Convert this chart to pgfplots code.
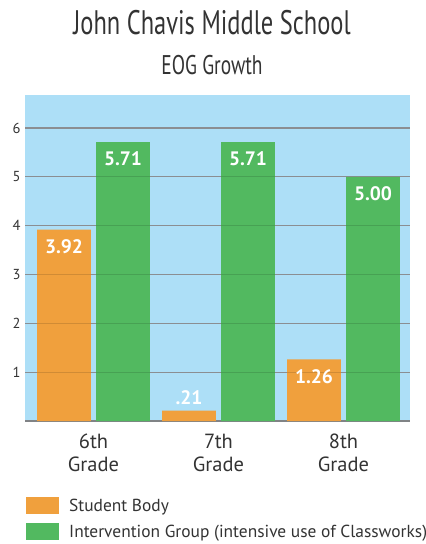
\documentclass[border=0pt]{standalone}
\usepackage{fontspec}
\setmainfont{PT Sans}
\newfontfamily\titlefont[FakeStretch=0.72]{PT Sans}
\usepackage{pgfplots}
\pgfplotsset{compat=1.18}
\usepackage{pgfplotstable}
\definecolor{bgblue}{HTML}{ADDFF7}
\definecolor{orangebar}{HTML}{F0A03D}
\definecolor{greenbar}{HTML}{52B960}
\definecolor{gridgray}{HTML}{A0A4A8}
\definecolor{txt}{HTML}{333333}

\pgfplotstableread{
x y lab dy
0 3.92 3.92 -6.2
1 0.21 .21 24
2 1.26 1.26 -6.2
}\orangedata
\pgfplotstableread{
x y lab dy
0 5.71 5.71 -6.2
1 5.71 5.71 -6.2
2 5.00 5.00 -6.2
}\greendata

\begin{document}
\begin{tikzpicture}
\path[use as bounding box] (0pt,0pt) rectangle (426pt,544pt);
\node[anchor=base, text=txt, font=\titlefont\fontsize{34}{40}\selectfont] at (212pt,509pt) {John Chavis Middle School};
\node[anchor=base, text=txt, font=\titlefont\fontsize{27}{32}\selectfont] at (212pt,469pt) {EOG Growth};
\begin{axis}[
  at={(25pt,123pt)}, anchor=south west,
  scale only axis, width=385pt, height=326pt,
  xmin=-0.548, xmax=2.532, ymin=0, ymax=6.676,
  axis background/.style={fill=bgblue},
  axis x line*=bottom, axis y line*=left,
  x axis line style={draw=gridgray!80!black, line width=1.5pt},
  y axis line style={draw=none},
  major tick length=0pt,
  xtick={0,1,2}, xticklabels={{6th\\Grade},{7th\\Grade},{8th\\Grade}},
  xticklabel style={align=center, font=\fontsize{20.5}{23}\selectfont, text=txt, yshift=-9.5pt},
  ytick={1,2,3,4,5,6},
  yticklabel style={font=\fontsize{14.5}{16}\selectfont, text=txt, xshift=-1pt},
  /pgf/number format/assume math mode=true,
  ymajorgrids, major grid style={draw=gridgray, line width=1.3pt},
  ybar, bar width=0.43,
  legend style={at={(0,0)}, anchor=north west, xshift=1pt, yshift=-76pt,
    draw=none, fill=none, inner sep=0pt, row sep=8.5pt, column sep=10pt,
    nodes={inner sep=0pt}, font=\fontsize{17.4}{20}\selectfont, text=txt},
  legend cell align=left,
]
\addplot[ybar, bar shift=-0.236, fill=orangebar, draw=none,
  legend image code/.code={\fill[orangebar] (0pt,-8pt) rectangle (33pt,9pt);}]
  table[x=x, y=y] {\orangedata};
\addlegendentry{Student Body}
\addplot[ybar, bar shift=0.236, fill=greenbar, draw=none,
  legend image code/.code={\fill[greenbar] (0pt,-8pt) rectangle (33pt,9pt);}]
  table[x=x, y=y] {\greendata};
\addlegendentry{Intervention Group (intensive use of Classworks)}
\pgfplotsinvokeforeach{1,2,3,4,5,6}{
  \draw[black, opacity=0.13, line width=1.3pt] (axis cs:-0.548,#1) -- (axis cs:2.532,#1);
}
\addplot[ybar, bar shift=-0.236, draw=none, fill=none, forget plot,
  nodes near coords, point meta=explicit symbolic,
  visualization depends on={\thisrow{dy} \as \dy},
  every node near coord/.append style={anchor=north, yshift=\dy pt, text=white,
    font=\bfseries\fontsize{19.5}{21}\selectfont}]
  table[x=x, y=y, meta=lab] {\orangedata};
\addplot[ybar, bar shift=0.236, draw=none, fill=none, forget plot,
  nodes near coords, point meta=explicit symbolic,
  visualization depends on={\thisrow{dy} \as \dy},
  every node near coord/.append style={anchor=north, yshift=\dy pt, text=white,
    font=\bfseries\fontsize{19.5}{21}\selectfont}]
  table[x=x, y=y, meta=lab] {\greendata};
\end{axis}
\end{tikzpicture}
\end{document}
